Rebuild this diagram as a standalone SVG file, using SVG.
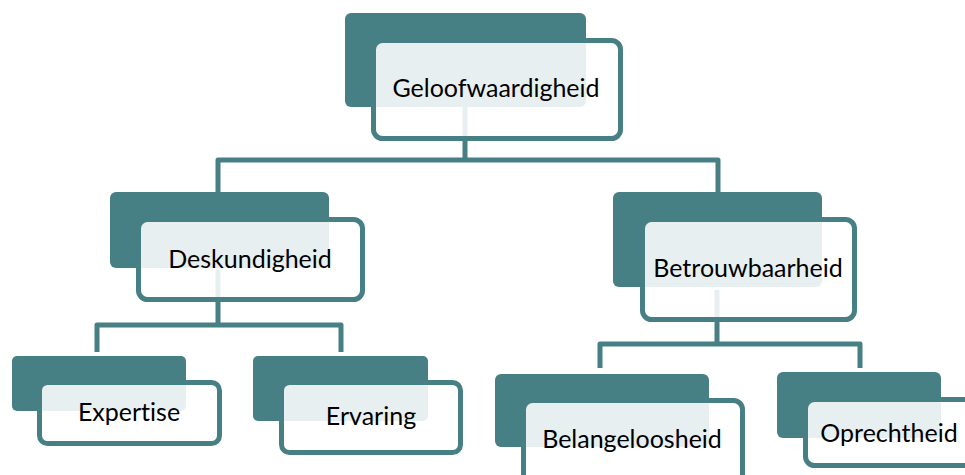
<svg xmlns="http://www.w3.org/2000/svg" width="965" height="475" viewBox="0 0 965 475">
<style>
.back{fill:#467F84}
.front{fill:#ffffff;fill-opacity:0.88;stroke:#467F84;stroke-width:5}
.conn{fill:none;stroke:#467F84;stroke-width:5;stroke-linejoin:round}
text{font-family:Lato,"Open Sans","Liberation Sans",sans-serif;font-size:25px;fill:#000;text-anchor:middle;font-variant-ligatures:none;font-feature-settings:"liga" 0,"clig" 0}
</style>
<rect width="965" height="475" fill="#fff"/>
<g id="connectors">
<path class="conn" d="M465,100 V160 M218,192 V160 H718 V192"/>
<path class="conn" d="M218,270 V325 M97,352 V325 H341 V352"/>
<path class="conn" d="M717,290 V344 M600,368 V344 H860 V368"/>
</g>
<g id="geloofwaardigheid">
<rect class="back" x="345" y="13" width="241" height="94" rx="6"/>
<rect class="front" x="373.5" y="40.5" width="247" height="98" rx="9"/>
<text x="496" y="97">Geloofwaardigheid</text>
</g>
<g id="deskundigheid">
<rect class="back" x="110" y="192" width="219" height="76" rx="6"/>
<rect class="front" x="138.5" y="219.5" width="224" height="80" rx="9"/>
<text x="250" y="268">Deskundigheid</text>
</g>
<g id="betrouwbaarheid">
<rect class="back" x="613" y="192" width="209" height="95" rx="6"/>
<rect class="front" x="642.5" y="219.5" width="212" height="100" rx="9"/>
<text x="748" y="277">Betrouwbaarheid</text>
</g>
<g id="expertise">
<rect class="back" x="12" y="356" width="174" height="55" rx="5"/>
<rect class="front" x="39.5" y="382.5" width="180" height="61" rx="8"/>
<text x="129" y="421">Expertise</text>
</g>
<g id="ervaring">
<rect class="back" x="253" y="356" width="175" height="65" rx="5"/>
<rect class="front" x="281.5" y="382.5" width="179" height="70" rx="8"/>
<text x="371" y="425">Ervaring</text>
</g>
<g id="belangeloosheid">
<rect class="back" x="495" y="374" width="214" height="73" rx="6"/>
<rect class="front" x="523.5" y="400.5" width="219" height="90" rx="9"/>
<text x="632" y="448">Belangeloosheid</text>
</g>
<g id="oprechtheid">
<rect class="back" x="777" y="372" width="164" height="66" rx="6"/>
<rect class="front" x="805.5" y="399.5" width="180" height="66" rx="9"/>
<text x="889" y="442">Oprechtheid</text>
</g>
</svg>
